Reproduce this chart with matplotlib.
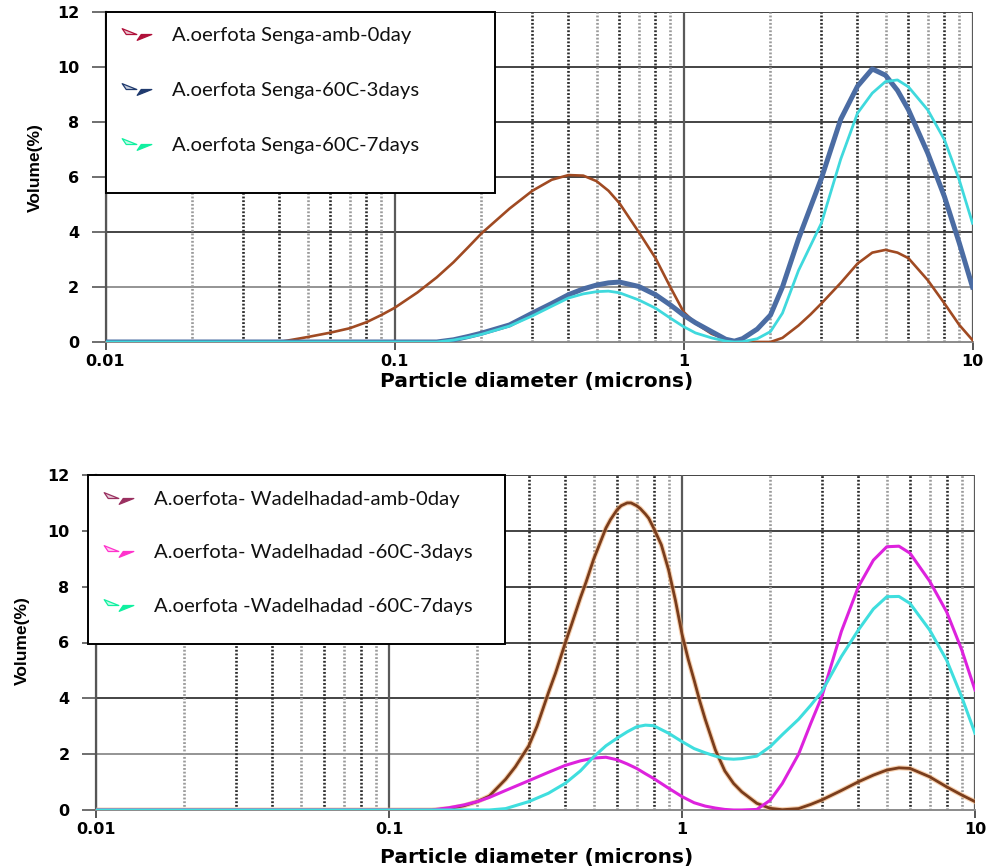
import matplotlib
matplotlib.use("Agg")
import matplotlib.pyplot as plt
from matplotlib.path import Path
from matplotlib.lines import Line2D
from matplotlib.patches import Rectangle
from matplotlib.legend_handler import HandlerTuple
from matplotlib.ticker import NullLocator, FixedLocator
from matplotlib.font_manager import FontProperties
from matplotlib.colors import to_rgb

# ---------------- data ----------------
major_ticks = [0.01, 0.1, 1, 10]
major_labels = ["0.01", "0.1", "1", "10"]
y_ticks = [0, 2, 4, 6, 8, 10, 12]

# Senga samples (top panel)
senga_x = [0.01, 0.04, 0.05, 0.06, 0.07, 0.08, 0.09, 0.1, 0.12, 0.14, 0.16, 0.18,
           0.2, 0.25, 0.3, 0.35, 0.4, 0.45, 0.5, 0.55, 0.6, 0.7, 0.8, 0.9, 1.0,
           1.1, 1.25, 1.4, 1.5, 1.6, 1.8, 2.0, 2.2, 2.5, 2.75, 3.0, 3.5, 4.0,
           4.5, 5.0, 5.5, 6.0, 7.0, 8.0, 9.0, 10.0]
senga_amb_0day = [0, 0, 0.18, 0.34, 0.5, 0.72, 0.98, 1.24, 1.8, 2.35, 2.9, 3.45,
                  3.95, 4.85, 5.5, 5.9, 6.07, 6.05, 5.85, 5.5, 5.05, 4.0, 3.05, 2.0, 1.1,
                  0.68, 0.3, 0.1, 0.05, 0.02, 0.0, 0.0, 0.15, 0.6, 1.0, 1.4, 2.15, 2.85,
                  3.25, 3.35, 3.25, 3.05, 2.25, 1.4, 0.62, 0.07]
senga_60c_3days = [0, 0, 0, 0, 0, 0, 0, 0, 0, 0, 0.08, 0.2,
                   0.32, 0.62, 1.05, 1.4, 1.72, 1.93, 2.07, 2.15, 2.18, 2.02, 1.72, 1.35, 0.98,
                   0.7, 0.38, 0.1, 0.03, 0.12, 0.47, 0.98, 2.0, 3.75, 4.9, 5.95, 8.1, 9.3,
                   9.93, 9.7, 9.15, 8.45, 6.87, 5.28, 3.6, 2.0]
senga_60c_7days = [0, 0, 0, 0, 0, 0, 0, 0, 0, 0, 0.07, 0.17,
                   0.28, 0.58, 0.95, 1.3, 1.6, 1.75, 1.83, 1.85, 1.79, 1.53, 1.23, 0.87, 0.56,
                   0.33, 0.15, 0.03, 0.0, 0.01, 0.12, 0.38, 1.05, 2.6, 3.5, 4.32, 6.65, 8.32,
                   9.05, 9.47, 9.53, 9.28, 8.44, 7.35, 5.89, 4.32]

# Wadelhadad samples (bottom panel)
wadel_x = [0.01, 0.14, 0.16, 0.18, 0.2, 0.22, 0.25, 0.3, 0.35, 0.4, 0.45, 0.5, 0.55,
           0.6, 0.65, 0.7, 0.75, 0.8, 0.9, 1.0, 1.1, 1.2, 1.3, 1.4, 1.5, 1.6, 1.8,
           2.0, 2.2, 2.5, 2.75, 3.0, 3.5, 4.0, 4.5, 5.0, 5.5, 6.0, 7.0, 8.0, 9.0, 10.0]
wadel_60c_3days = [0, 0, 0.08, 0.18, 0.3, 0.45, 0.7, 1.05, 1.35, 1.6, 1.76, 1.86, 1.89,
                   1.8, 1.65, 1.49, 1.3, 1.13, 0.78, 0.48, 0.26, 0.14, 0.07, 0.02, 0, 0, 0.02,
                   0.35, 0.95, 2.0, 3.1, 4.06, 6.4, 8.0, 8.95, 9.43, 9.45, 9.2, 8.2, 7.1, 5.75, 4.3]
wadel_60c_7days = [0, 0, 0, 0, 0, 0, 0.05, 0.3, 0.6, 0.96, 1.4, 1.91, 2.3,
                   2.57, 2.8, 2.98, 3.04, 3.02, 2.75, 2.45, 2.2, 2.05, 1.93, 1.84, 1.82, 1.84, 1.93,
                   2.27, 2.7, 3.25, 3.75, 4.24, 5.5, 6.45, 7.2, 7.64, 7.65, 7.4, 6.45, 5.37, 4.06, 2.75]
# the sharp ambient peak is read at a finer spacing
wadel_amb_x = [0.01, 0.14, 0.16, 0.18, 0.2, 0.22, 0.25, 0.27, 0.3, 0.32, 0.35, 0.37, 0.4,
               0.42, 0.45, 0.47, 0.5, 0.52, 0.55, 0.57, 0.6, 0.62, 0.65, 0.67, 0.7, 0.72,
               0.75, 0.77, 0.8, 0.85, 0.9, 0.95, 1.0, 1.05, 1.1, 1.15, 1.2, 1.3, 1.4, 1.5,
               1.6, 1.8, 2.0, 2.2, 2.5, 2.75, 3.0, 3.5, 4.0, 4.5, 5.0, 5.5, 6.0, 7.0, 8.0,
               9.0, 10.0]
wadel_amb_0day = [0, 0, 0.05, 0.15, 0.3, 0.5, 1.1, 1.55, 2.3, 3.0, 4.2, 4.9, 6.0,
                  6.65, 7.6, 8.15, 9.0, 9.45, 10.1, 10.4, 10.75, 10.9, 11.0, 11.0, 10.9, 10.8,
                  10.6, 10.45, 10.1, 9.5, 8.6, 7.5, 6.3, 5.4, 4.65, 3.9, 3.25, 2.15, 1.4, 0.95,
                  0.65, 0.24, 0.06, 0.01, 0.05, 0.2, 0.36, 0.7, 1.01, 1.25, 1.43, 1.51, 1.49, 1.19, 0.83,
                  0.54, 0.3]

senga_labels = ["A.oerfota Senga-amb-0day",
                "A.oerfota Senga-60C-3days",
                "A.oerfota Senga-60C-7days"]
wadel_labels = ["A.oerfota- Wadelhadad-amb-0day",
                "A.oerfota- Wadelhadad -60C-3days",
                "A.oerfota -Wadelhadad -60C-7days"]

# ---------------- figure ----------------
W, H = 992, 867
fig = plt.figure(figsize=(W / 100, H / 100), dpi=100)


def fig_box(left, top, right, bottom):
    return [left / W, 1 - bottom / H, (right - left) / W, (bottom - top) / H]


ax1 = fig.add_axes(fig_box(105.5, 12, 972.5, 342))
ax2 = fig.add_axes(fig_box(96, 475, 975, 810))

tick_font = FontProperties(family="DejaVu Sans", weight="bold", size=11.5)
dark_minor = {3, 4, 6, 8}


def style_axes(ax):
    ax.set_xscale("log")
    ax.set_xlim(0.01, 10)
    ax.set_ylim(0, 12)
    ax.xaxis.set_major_locator(FixedLocator(major_ticks))
    ax.xaxis.set_minor_locator(NullLocator())
    ax.set_xticklabels(major_labels)
    ax.set_yticks(y_ticks)
    for lab in ax.get_xticklabels() + ax.get_yticklabels():
        lab.set_fontproperties(tick_font)
    ax.tick_params(axis="y", direction="out", length=10, width=1.2,
                   color="#555555", pad=9)
    ax.tick_params(axis="x", direction="out", length=6, width=1.4,
                   color="#555555", pad=3)
    for side in ("top", "right"):
        ax.spines[side].set_visible(False)
    ax.spines["left"].set_color("#555555")
    ax.spines["left"].set_linewidth(1.6)
    ax.spines["bottom"].set_color("#8a8a8a")
    ax.spines["bottom"].set_linewidth(1.4)
    # horizontal grid
    for v in y_ticks[1:]:
        ax.axhline(v, color="#777777" if v == 2 else "#111111", lw=1.1, zorder=1)
    # vertical grid: solid decades, dotted intermediates
    for d in major_ticks:
        ax.axvline(d, color="#5a5a5a", lw=1.6, zorder=1)
        if d < 10:
            for m in range(2, 10):
                ax.axvline(m * d, color="#2a2a2a" if m in dark_minor else "#9a9a9a",
                           lw=1.9, ls=(0, (0.7, 0.7)), zorder=1)


style_axes(ax1)
style_axes(ax2)

# curves
ax1.plot(senga_x, senga_amb_0day, color="#a04a22", lw=1.9, zorder=3)
ax1.plot(senga_x, senga_60c_3days, color="#4b6ca3", lw=3.6, zorder=3)
ax1.plot(senga_x, senga_60c_7days, color="#3fd9dd", lw=2.0, zorder=3)

ax2.plot(wadel_amb_x, wadel_amb_0day, color="#f2b27a", lw=3.6, alpha=0.6, zorder=3)
ax2.plot(wadel_amb_x, wadel_amb_0day, color="#7a3d1c", lw=2.0, zorder=3)
ax2.plot(wadel_x, wadel_60c_3days, color="#dd22dd", lw=2.2, zorder=3)
ax2.plot(wadel_x, wadel_60c_7days, color="#3fdede", lw=2.2, zorder=3)

# axis labels
xlabel_font = dict(family="DejaVu Sans", weight="bold", size=14.5)
fig.text(537 / W, 1 - 381 / H, "Particle diameter (microns)", ha="center", va="center",
         **xlabel_font)
fig.text(537 / W, 1 - 857 / H, "Particle diameter (microns)", ha="center", va="center",
         **xlabel_font)
ylabel_kw = dict(family=["Liberation Sans", "DejaVu Sans"], weight="bold",
                 size=12.5, rotation=90, ha="center", va="center")
fig.text(35 / W, 1 - 168 / H, "Volume(%)", **ylabel_kw)
fig.text(22 / W, 1 - 641 / H, "Volume(%)", **ylabel_kw)

# legends with arrowhead markers
arrow_top = Path([(-1, 0.8), (1, 0), (-0.45, 0), (-1, 0.8)],
                 [Path.MOVETO, Path.LINETO, Path.LINETO, Path.CLOSEPOLY])
arrow_bot = Path([(-0.45, 0), (1, 0), (-1, -0.8), (-0.45, 0)],
                 [Path.MOVETO, Path.LINETO, Path.LINETO, Path.CLOSEPOLY])


def tint(color, amount):
    r, g, b = to_rgb(color)
    return (r + (1 - r) * amount, g + (1 - g) * amount, b + (1 - b) * amount)


def arrow_handle(color):
    upper = Line2D([], [], ls="none", marker=arrow_top, markersize=10.5,
                   markerfacecolor=tint(color, 0.75), markeredgecolor=color,
                   markeredgewidth=0.9)
    lower = Line2D([], [], ls="none", marker=arrow_bot, markersize=10.5,
                   markerfacecolor=color, markeredgecolor=color, markeredgewidth=0.9)
    return (upper, lower)


legend_font = FontProperties(family="Lato", size=14.6)


def boxed_legend(ax, labels, colors, box, anchor, spacing):
    left, top, right, bottom = box
    ax.add_artist(Rectangle((left / W, 1 - bottom / H), (right - left) / W,
                            (bottom - top) / H, transform=fig.transFigure,
                            facecolor="white", edgecolor="black", lw=1.4,
                            zorder=4, clip_on=False))
    leg = ax.legend([arrow_handle(c) for c in colors], labels,
                    handler_map={tuple: HandlerTuple(ndivide=None)},
                    loc="upper left", bbox_to_anchor=(anchor[0] / W, 1 - anchor[1] / H),
                    bbox_transform=fig.transFigure, frameon=False, prop=legend_font,
                    handlelength=1.5, handletextpad=1.0, labelspacing=spacing,
                    borderpad=0, borderaxespad=0)
    leg.set_zorder(5)
    for t in leg.get_texts():
        t.set_color("#111111")


boxed_legend(ax1, senga_labels, ["#b0103a", "#1f3a6e", "#10f0a0"],
             (106, 12, 495, 193), (121, 27), 1.86)
boxed_legend(ax2, wadel_labels, ["#9a3060", "#ff33cc", "#10f0a0"],
             (88, 475, 505, 644), (103, 491), 1.78)

fig.savefig("out.png", dpi=100)
